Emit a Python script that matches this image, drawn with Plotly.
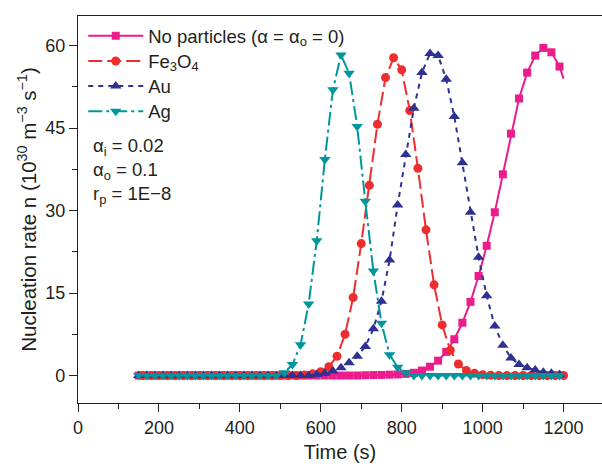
import plotly.graph_objects as go

# ---- data ----
time_a = list(range(150, 1200, 20))   # 150..1190 (pink, blue, teal)
time_b = list(range(160, 1201, 20))   # 160..1200 (red)

no_particles = [0]*28 + [0.05, 0.08, 0.1, 0.15, 0.2, 0.3, 0.5, 0.9, 1.6, 2.7, 4.3, 6.6, 9.6,
                         13.4, 18.1, 23.6, 29.7, 36.6, 44.0, 50.4, 55.1, 58.2, 59.6, 58.8, 56.2]
no_particles_end_t = [1190, 1200]
no_particles_end_v = [56.2, 54.0]

fe3o4 = [0]*20 + [0.1, 0.3, 0.7, 1.6, 3.5, 7.5, 14.2, 24.0, 34.6, 45.7, 54.2, 57.8, 55.6,
                  48.2, 37.7, 26.5, 16.5, 9.2, 4.6, 2.1, 0.9, 0.4, 0.15, 0.05] + [0]*9

au = [0]*22 + [0.2, 0.4, 0.8, 1.4, 2.3, 3.5, 5.3, 8.5, 13.5, 21.0, 31.0, 40.2, 48.6, 55.1,
               58.6, 58.2, 53.9, 47.1, 38.7, 29.7, 21.5, 14.5, 9.0, 5.5, 3.2, 2.0, 1.4, 1.0,
               0.6, 0.4, 0.2]

ag = [0]*18 + [0.5, 2.0, 5.6, 13.0, 24.5, 39.3, 52.0, 58.3, 55.0, 45.3, 31.7, 19.0, 9.5,
               3.8, 1.5, 0.5] + [0]*19

series_names = ["No particles (α = α<sub>o</sub> = 0)", "Fe<sub>3</sub>O<sub>4</sub>", "Au", "Ag"]
x_ticks = [0, 200, 400, 600, 800, 1000, 1200]
y_ticks = [0, 15, 30, 45, 60]
y_minor = [7.5, 22.5, 37.5, 52.5]

PINK = "#EC1C8C"
RED = "#EE2D2F"
BLUE = "#2E3192"
TEAL = "#00969B"
INK = "#231F20"
FONT = "Liberation Sans, Arial, sans-serif"


def big(s):
    return '<span style="font-size:18.5px">' + s + '</span>'


fig = go.Figure()

fig.add_trace(go.Scatter(
    x=time_a, y=no_particles, mode="lines+markers",
    name=big(series_names[0]),
    line=dict(color=PINK, width=2),
    marker=dict(symbol="square", size=8, color=PINK)))
fig.add_trace(go.Scatter(
    x=no_particles_end_t, y=no_particles_end_v, mode="lines", showlegend=False,
    line=dict(color=PINK, width=2)))
fig.add_trace(go.Scatter(
    x=time_b, y=fe3o4, mode="lines+markers",
    name=big(series_names[1]),
    line=dict(color=RED, width=2, dash="14px,5px"),
    marker=dict(symbol="circle", size=9, color=RED)))
fig.add_trace(go.Scatter(
    x=time_a, y=au, mode="lines+markers", name=big(series_names[2]),
    line=dict(color=BLUE, width=2, dash="5px,5px"),
    marker=dict(symbol="triangle-up", size=10, color=BLUE)))
fig.add_trace(go.Scatter(
    x=time_a, y=ag, mode="lines+markers", name=big(series_names[3]),
    line=dict(color=TEAL, width=2, dash="14px,4px,3px,4px"),
    marker=dict(symbol="triangle-down", size=10, color=TEAL)))

for txt, yv in [("α<sub>i</sub> = 0.02", 41.6), ("α<sub>o</sub> = 0.1", 37.2),
                ("r<sub>p</sub> = 1E−8", 32.8)]:
    fig.add_annotation(x=32, y=yv, xref="x", yref="y", text=txt, showarrow=False,
                       xanchor="left", yanchor="middle",
                       font=dict(family=FONT, size=18.5, color=INK))

fig.update_layout(
    width=602, height=464,
    margin=dict(l=78, r=0, t=16, b=61),
    paper_bgcolor="white", plot_bgcolor="white",
    font=dict(family=FONT, size=18, color=INK),
    legend=dict(x=0.010, y=0.994, xanchor="left", yanchor="top",
                bgcolor="rgba(0,0,0,0)", font=dict(size=17, color=INK),
                itemwidth=55, tracegroupgap=0),
    showlegend=True,
)

fig.update_xaxes(
    range=[0, 1295], tickvals=x_ticks, ticks="outside", ticklen=8, tickwidth=1.3,
    tickcolor=INK, showline=True, linecolor=INK, linewidth=1.3, mirror=True,
    showgrid=False, zeroline=False, tickfont=dict(size=18, color=INK),
    minor=dict(dtick=100, ticks="outside", ticklen=5, tickwidth=1.3, tickcolor=INK),
    title=dict(text="Time (s)", font=dict(size=20, color=INK), standoff=8))
fig.update_yaxes(
    range=[-5, 65.4], tickvals=y_ticks, ticks="outside", ticklen=8, tickwidth=1.3,
    tickcolor=INK, showline=True, linecolor=INK, linewidth=1.3,
    showgrid=False, zeroline=False, tickfont=dict(size=18, color=INK),
    minor=dict(tickvals=y_minor, ticks="outside",
               ticklen=5, tickwidth=1.3, tickcolor=INK),
    title=dict(text="Nucleation rate n (10<sup>30</sup> m<sup>−3</sup> s<sup>−1</sup>)",
               font=dict(size=20.5, color=INK), standoff=3))

fig.write_html("out.html")
